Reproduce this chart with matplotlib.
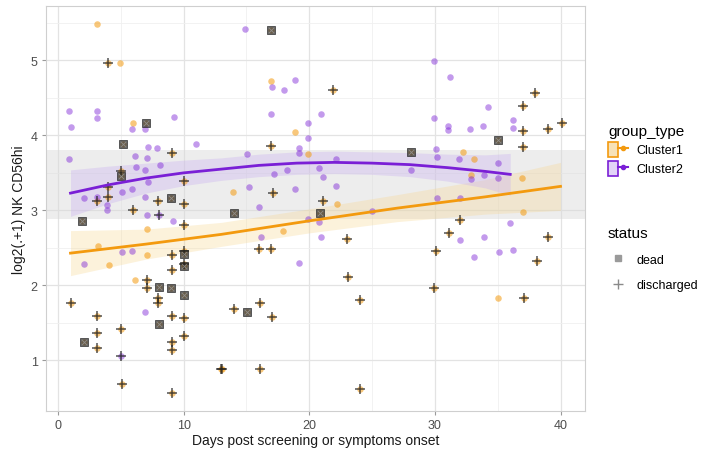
import matplotlib
matplotlib.use("Agg")
import matplotlib.pyplot as plt
from matplotlib.patches import Patch
from matplotlib.lines import Line2D
from matplotlib.legend_handler import HandlerTuple

plt.rcParams['font.family'] = ['Liberation Sans', 'DejaVu Sans']

# Cluster1 points (orange): first plain, then dead, then discharged
c1_plain_days = [3.07, 4.95, 6.0, 16.97, 18.85, 19.9, 13.9, 22.2, 32.2, 33.1, 32.9, 36.9, 37.0,
                 7.08, 3.15, 7.08, 4.06, 6.15, 17.9, 35.0]
c1_plain_nk = [5.49, 4.96, 4.17, 4.72, 4.04, 3.75, 3.24, 3.09, 3.78, 3.69, 3.47, 3.43, 2.98,
               2.75, 2.52, 2.40, 2.27, 2.07, 2.72, 1.83]
c1_dead_days = [7.0, 5.2, 5.0, 9.03, 1.92, 16.97, 28.07, 35.0, 14.03, 20.85, 10.0, 10.0,
                8.07, 9.03, 10.0, 8.07, 2.08, 15.05]
c1_dead_nk = [4.16, 3.89, 3.46, 3.16, 2.86, 5.40, 3.78, 3.94, 2.97, 2.97, 2.42, 2.26,
              1.98, 1.97, 1.87, 1.48, 1.24, 1.64]
c1_disc_days = [4.0, 9.1, 5.0, 10.0, 4.0, 3.07, 4.0, 8.0, 10.0, 6.0, 10.0, 16.97, 17.1,
                21.06, 21.87, 38.0, 37.0, 37.0, 39.0, 40.15, 37.0, 10.0, 9.09, 10.0, 9.09,
                7.08, 7.08, 1.07, 8.0, 8.0, 3.07, 9.09, 10.0, 5.03, 3.07, 10.0, 9.09, 9.09,
                3.07, 12.97, 5.08, 9.09, 16.04, 16.97, 23.04, 23.1, 24.06, 14.03, 16.1,
                17.0, 13.05, 16.1, 24.06, 32.0, 31.1, 38.97, 30.07, 38.1, 29.9, 37.1]
c1_disc_nk = [4.96, 3.76, 3.53, 3.39, 3.31, 3.12, 3.18, 3.13, 3.08, 3.00, 2.80, 3.86, 3.23,
              3.13, 4.60, 4.57, 4.39, 4.06, 4.08, 4.16, 3.84, 2.46, 2.41, 2.29, 2.20,
              2.07, 1.96, 1.76, 1.83, 1.77, 1.59, 1.59, 1.57, 1.42, 1.37, 1.33, 1.25, 1.14,
              1.16, 0.89, 0.68, 0.56, 2.49, 2.49, 2.62, 2.11, 1.80, 1.68, 1.76,
              1.58, 0.89, 0.89, 0.62, 2.87, 2.70, 2.65, 2.46, 2.32, 1.97, 1.83]

# Cluster2 points (purple)
c2_plain_days = [0.86, 3.07, 1.0, 3.07, 5.9, 6.9, 9.2, 7.2, 7.9, 10.96, 0.86, 6.1, 7.1, 6.2,
                 6.95, 8.15, 7.2, 5.1, 5.9, 2.1, 3.07, 3.87, 3.87, 6.95, 7.1, 9.17, 5.08,
                 5.93, 2.08, 6.9,
                 14.9, 17.05, 17.96, 18.85, 16.97, 20.9, 19.9, 19.9, 19.2, 19.2, 15.05, 22.1,
                 17.2, 18.2, 20.8, 21.1, 15.2, 18.9, 22.1, 16.0, 25.0, 19.9, 20.8, 16.2,
                 20.9, 19.2,
                 29.9, 31.2, 34.2, 29.9, 31.06, 31.06, 32.8, 33.8, 36.2, 36.2, 30.07, 30.15,
                 31.9, 35.0, 28.1, 32.9, 33.9, 35.0, 30.15, 32.0, 35.95, 32.0, 33.9, 33.1,
                 35.1, 36.2]
c2_plain_nk = [4.32, 4.32, 4.11, 4.23, 4.09, 4.08, 4.25, 3.85, 3.83, 3.89, 3.69, 3.72, 3.70,
               3.58, 3.54, 3.60, 3.38, 3.25, 3.28, 3.17, 3.18, 3.07, 3.00, 3.18, 2.94, 2.86,
               2.45, 2.46, 2.28, 1.65,
               5.42, 4.64, 4.60, 4.74, 4.28, 4.29, 4.16, 3.97, 3.83, 3.77, 3.75, 3.69,
               3.48, 3.54, 3.56, 3.44, 3.31, 3.28, 3.32, 3.05, 2.99, 2.88, 2.84, 2.65,
               2.65, 2.30,
               4.99, 4.78, 4.38, 4.23, 4.12, 4.07, 4.09, 4.12, 4.21, 4.10, 3.82, 3.71,
               3.68, 3.63, 3.54, 3.42, 3.47, 3.43, 3.17, 3.16, 2.83, 2.60, 2.64, 2.38,
               2.45, 2.47]
c2_disc_days = [8.07, 5.03]
c2_disc_nk = [2.94, 1.06]

# smooth fits
c1_fit_x = [1, 7, 13, 20, 27, 34, 40]
c1_fit_y = [2.43, 2.55, 2.68, 2.86, 3.03, 3.18, 3.32]
c1_fit_lo = [2.13, 2.35, 2.52, 2.70, 2.85, 2.95, 3.00]
c1_fit_hi = [2.73, 2.75, 2.84, 3.02, 3.21, 3.41, 3.64]

c2_fit_x = [1, 4, 7, 10, 13, 16, 19, 22, 25, 28, 31, 34, 36]
c2_fit_y = [3.23, 3.34, 3.43, 3.50, 3.55, 3.60, 3.63, 3.64, 3.63, 3.61, 3.57, 3.52, 3.48]
c2_fit_lo = [2.92, 3.09, 3.23, 3.33, 3.40, 3.45, 3.48, 3.49, 3.48, 3.45, 3.39, 3.30, 3.20]
c2_fit_hi = [3.54, 3.59, 3.63, 3.67, 3.70, 3.75, 3.78, 3.79, 3.78, 3.77, 3.75, 3.74, 3.76]

# overall band
band_lo, band_hi = 2.89, 3.80

ORANGE = '#F39A0F'
PURPLE = '#7A1FD6'

fig = plt.figure(figsize=(7.25, 4.52), dpi=100)
ax = fig.add_axes([46 / 725, 1 - 412 / 452, 539 / 725, 405 / 452])

ax.set_xlim(-0.95, 41.95)
ax.set_ylim(0.325, 5.725)

# grid like ggplot theme_bw
ax.set_xticks([0, 10, 20, 30, 40])
ax.set_yticks([1, 2, 3, 4, 5])
ax.set_xticks([5, 15, 25, 35], minor=True)
ax.set_yticks([1.5, 2.5, 3.5, 4.5, 5.5], minor=True)
ax.grid(True, which='major', color='#e3e3e3', lw=0.9, zorder=0)
ax.grid(True, which='minor', color='#f0f0f0', lw=0.6, zorder=0)
ax.set_axisbelow(True)
for s in ax.spines.values():
    s.set_color('#cfcfcf')
    s.set_linewidth(0.8)
ax.tick_params(which='major', length=3, color='#9a9a9a', labelsize=9, labelcolor='#4d4d4d', pad=3)
ax.tick_params(which='minor', length=0)

ax.axhspan(band_lo, band_hi, color='#d9d9d9', alpha=0.45, lw=0, zorder=1)
ax.fill_between(c1_fit_x, c1_fit_lo, c1_fit_hi, color='#f7d58a', alpha=0.3, lw=0, zorder=1)
ax.fill_between(c2_fit_x, c2_fit_lo, c2_fit_hi, color='#c9b0f0', alpha=0.35, lw=0, zorder=1)

c1_days = c1_plain_days + c1_dead_days + c1_disc_days
c1_nk = c1_plain_nk + c1_dead_nk + c1_disc_nk
c2_days = c2_plain_days + c2_disc_days
c2_nk = c2_plain_nk + c2_disc_nk
ax.scatter(c1_days, c1_nk, s=22, color=ORANGE, alpha=0.55, lw=0, zorder=2)
ax.scatter(c2_days, c2_nk, s=22, color=PURPLE, alpha=0.45, lw=0, zorder=2)

# status markers
ax.scatter(c1_dead_days, c1_dead_nk, marker='s', s=26, facecolor='#3a3a3a', edgecolor='#222222',
           lw=0.6, alpha=0.75, zorder=3)
ax.scatter(c1_dead_days, c1_dead_nk, marker='x', s=12, color='#9a9a9a', lw=0.6, alpha=0.8, zorder=4)
ax.scatter(c1_disc_days + c2_disc_days, c1_disc_nk + c2_disc_nk, marker='+', s=55,
           color='#1a1a1a', lw=1.1, alpha=0.75, zorder=3)

ax.plot(c1_fit_x, c1_fit_y, color=ORANGE, lw=2.0, zorder=5)
ax.plot(c2_fit_x, c2_fit_y, color=PURPLE, lw=2.0, zorder=5)

ax.set_xlabel('Days post screening or symptoms onset', fontsize=10, color='#1a1a1a', labelpad=1)
ax.set_ylabel('log2(.+1) NK CD56hi', fontsize=10, color='#1a1a1a', labelpad=3)

# legends
h1 = [(Patch(facecolor='#f7e2b8', edgecolor=ORANGE, lw=1.2),
       Line2D([], [], color=ORANGE, lw=1.5, marker='o', markersize=3)),
      (Patch(facecolor='#e2d4f7', edgecolor=PURPLE, lw=1.2),
       Line2D([], [], color=PURPLE, lw=1.5, marker='o', markersize=3))]
leg1 = fig.legend(h1, ['Cluster1', 'Cluster2'], title='group_type',
                  handler_map={tuple: HandlerTuple(ndivide=None, pad=0)},
                  loc='upper left', bbox_to_anchor=(603 / 725, 1 - 120 / 452),
                  frameon=False, fontsize=9, title_fontsize=11,
                  handlelength=1.6, handleheight=1.5, handletextpad=0.7,
                  labelspacing=0.3, borderaxespad=0)
leg1._legend_box.align = 'left'

h2 = [Line2D([], [], ls='', marker='s', markersize=4, color='#9a9a9a'),
      Line2D([], [], ls='', marker='+', markersize=7, color='#8a8a8a', mew=1.0)]
leg2 = fig.legend(h2, ['dead', 'discharged'], title='status',
                  loc='upper left', bbox_to_anchor=(603 / 725, 1 - 222 / 452),
                  frameon=False, fontsize=9, title_fontsize=11,
                  handlelength=1.6, handletextpad=0.7, labelspacing=1.1,
                  borderaxespad=0)
leg2._legend_box.align = 'left'

fig.savefig('out.png', dpi=100)
